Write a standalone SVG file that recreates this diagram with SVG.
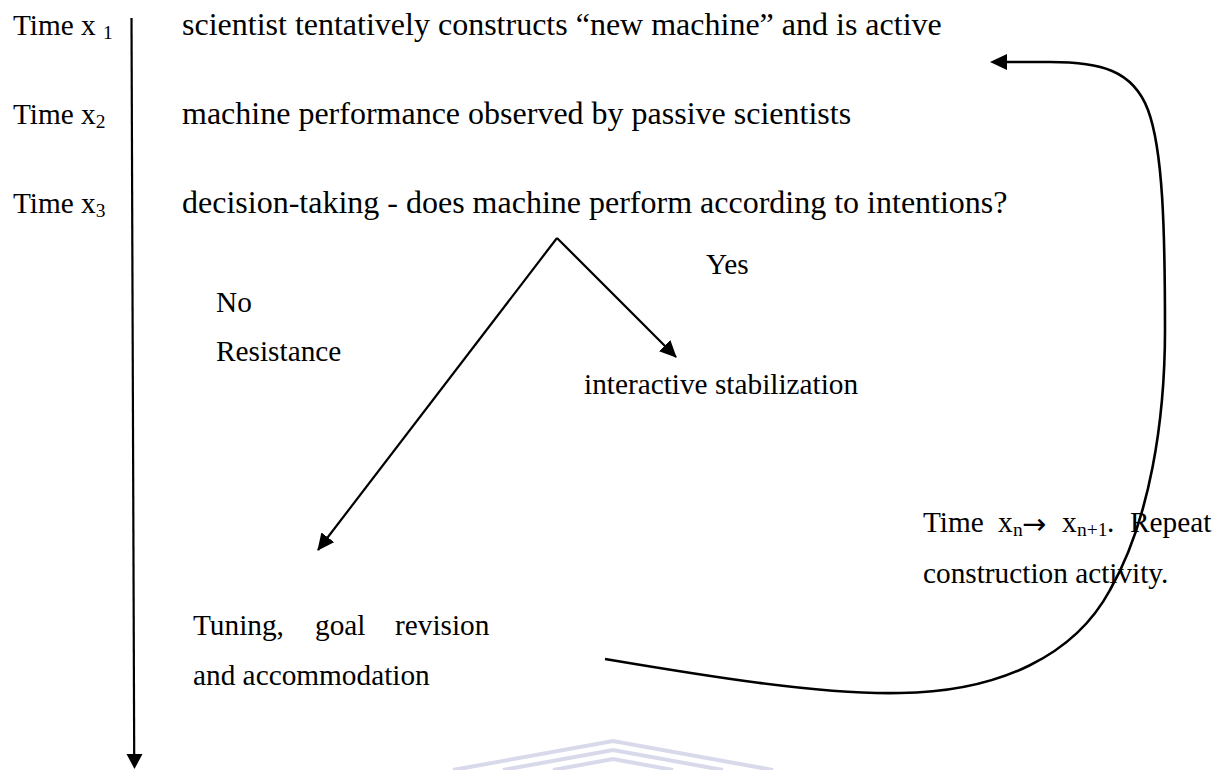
<svg xmlns="http://www.w3.org/2000/svg" width="1219" height="770" viewBox="0 0 1219 770">
<style>
text{font-family:"Liberation Serif","Times New Roman",serif;fill:#000}
.m{font-size:32px}
.b{font-size:29.3px}
.s{font-size:19.5px}
.ar{font-family:"DejaVu Sans",sans-serif;font-size:29px}
.ln{stroke:#000;stroke-width:2.2;fill:none}
.cv{stroke:#000;stroke-width:2.6;fill:none}
.wm{stroke:#d9d9ec;stroke-width:4;fill:none;stroke-linejoin:miter}
</style>
<defs>
<marker id="ah" viewBox="0 0 17 16" refX="16" refY="8" markerWidth="17" markerHeight="16" markerUnits="userSpaceOnUse" orient="auto">
<path d="M0,0 L17,8 L0,16 Z" fill="#000"/>
</marker>
</defs>
<rect width="1219" height="770" fill="#fff"/>
<g id="watermark">
<polyline class="wm" points="453,770 613,741 773,770"/>
<polyline class="wm" points="503,770 613,750 723,770"/>
<polyline class="wm" points="553,770 613,759 673,770"/>
</g>
<g id="connectors">
<line class="ln" x1="131.5" y1="18" x2="134.2" y2="756"/>
<polygon points="126.5,754 142.5,754 134.5,769" fill="#000"/>
<line class="ln" x1="557" y1="238" x2="318" y2="550" marker-end="url(#ah)"/>
<line class="ln" x1="557" y1="238" x2="676" y2="357" marker-end="url(#ah)"/>
<path class="cv" d="M605,659 C700,675 820,695 900,693 C1000,692 1075,655 1110,590 C1150,520 1165,420 1165,330 C1165,230 1163,150 1148,110 C1133,70 1100,62 1050,62 L1000,62"/>
<polygon points="990,62 1007,54 1007,70" fill="#000"/>
</g>
<g id="time1"><text class="b" x="13" y="35">Time x <tspan class="s" dy="4">1</tspan></text></g>
<g id="time2"><text class="b" x="13" y="124">Time x<tspan class="s" dy="4">2</tspan></text></g>
<g id="time3"><text class="b" x="13" y="213">Time x<tspan class="s" dy="4">3</tspan></text></g>
<g id="step1"><text class="m" x="182" y="35">scientist tentatively constructs “new machine” and is active</text></g>
<g id="step2"><text class="m" x="182" y="124">machine performance observed by passive scientists</text></g>
<g id="step3"><text class="m" x="182" y="213">decision-taking - does machine perform according to intentions?</text></g>
<g id="yes"><text class="b" x="706" y="274">Yes</text></g>
<g id="no"><text class="b" x="216" y="312">No</text><text class="b" x="216" y="361">Resistance</text></g>
<g id="stabilization"><text class="b" x="584" y="394">interactive stabilization</text></g>
<g id="tuning"><text class="b" y="635"><tspan x="193">Tuning,</tspan><tspan x="315">goal</tspan><tspan x="395">revision</tspan></text><text class="b" x="193" y="685">and accommodation</text></g>
<g id="repeat"><text class="b" y="532"><tspan x="923">Time</tspan><tspan x="998">x</tspan><tspan class="s" x="1013" dy="4">n</tspan><tspan class="ar" x="1022" dy="-2">→</tspan><tspan x="1062" dy="-2">x</tspan><tspan class="s" x="1077" dy="4">n+1</tspan><tspan x="1107" dy="-4">.</tspan><tspan x="1130">Repeat</tspan></text><text class="b" x="923" y="583">construction activity.</text></g>
</svg>
